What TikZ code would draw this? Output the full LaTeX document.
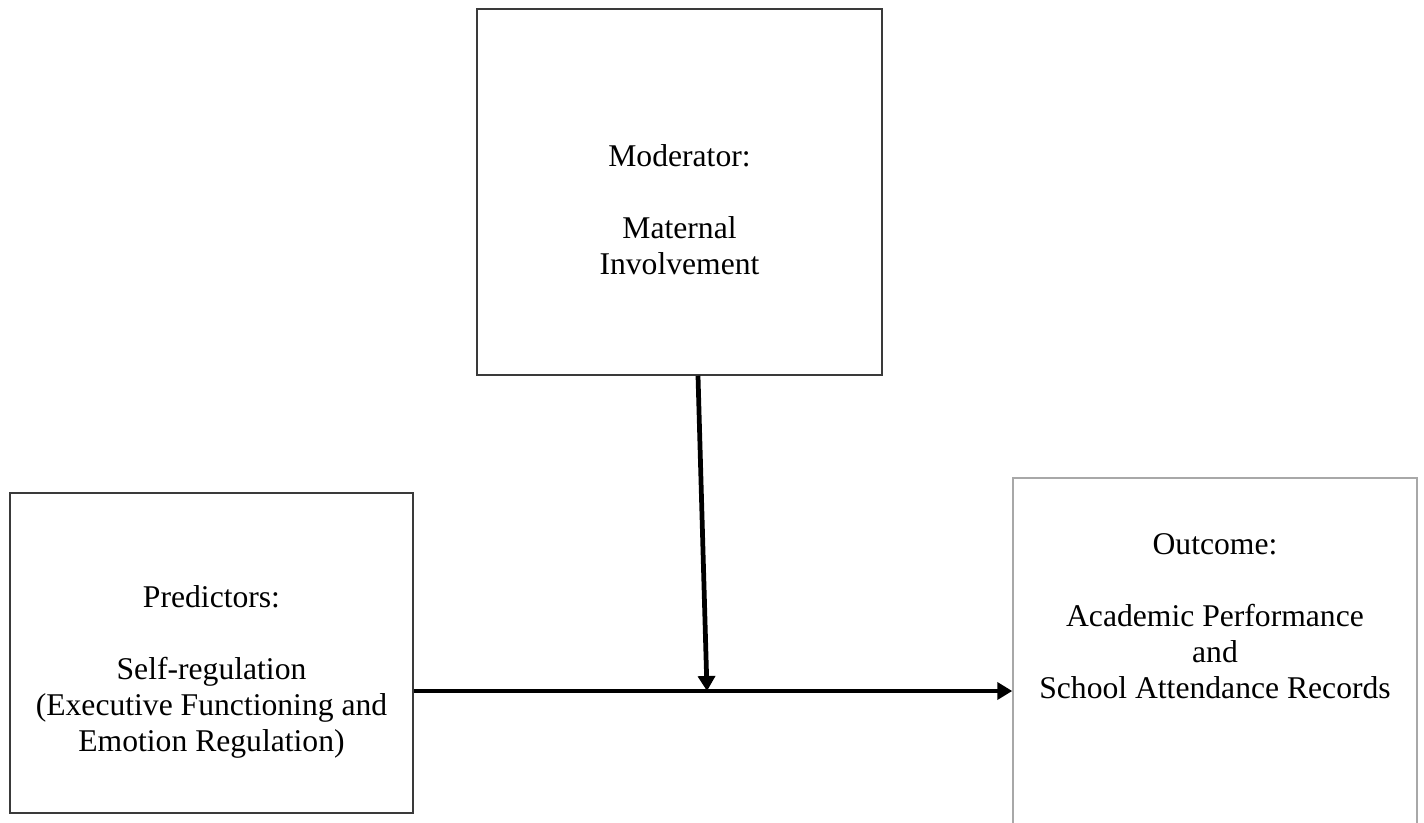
\documentclass[tikz,border=0pt]{standalone}
\usepackage{fontspec}
\setmainfont{Liberation Serif}
\usepackage{tikz}
\usetikzlibrary{arrows.meta,calc,positioning}
\definecolor{boxDark}{HTML}{3A3A3A}
\definecolor{boxGrey}{HTML}{A8A8A8}

\begin{document}
\begin{tikzpicture}[
    >={Triangle[length=0.3cm,width=0.34cm]},
    box/.style={draw=boxDark,line width=0.85pt,minimum width=8.06cm,inner sep=0pt},
    softbox/.style={box,draw=boxGrey},
    label/.style={align=center,inner sep=0pt,
      font=\fontsize{18}{20.5}\selectfont},
    link/.style={->,line width=2.7pt}
  ]
    \clip (0,0) rectangle (28.48,-16.44);

    \node[box,minimum height=7.32cm,minimum width=8.1cm] (mod) at (13.59,-3.84) {};
    \node[box,minimum height=6.4cm] (pred) at (4.23,-13.06) {};
    \node[softbox,minimum height=7.1cm,minimum width=8.08cm] (out) at (24.3,-13.11) {};

    \node[label,below=2.72cm of mod.north] (modtext) {Moderator:\\[20.5pt]Maternal\\Involvement};
    \node[label,below=1.86cm of pred.north] (predtext)
      {Predictors:\\[20.5pt]Self-regulation\\(Executive Functioning and\\Emotion Regulation)};
    \node[label,below=1.12cm of out.north] (outtext)
      {Outcome:\\[20.5pt]Academic Performance\\and\\School Attendance Records};

    \coordinate (join) at (14.14,-13.82);
    \draw[link] (pred.east |- join) -- (out.west |- join);
    \draw[link] ([xshift=0.37cm]mod.south) -- (join);
  \end{tikzpicture}
\end{document}
